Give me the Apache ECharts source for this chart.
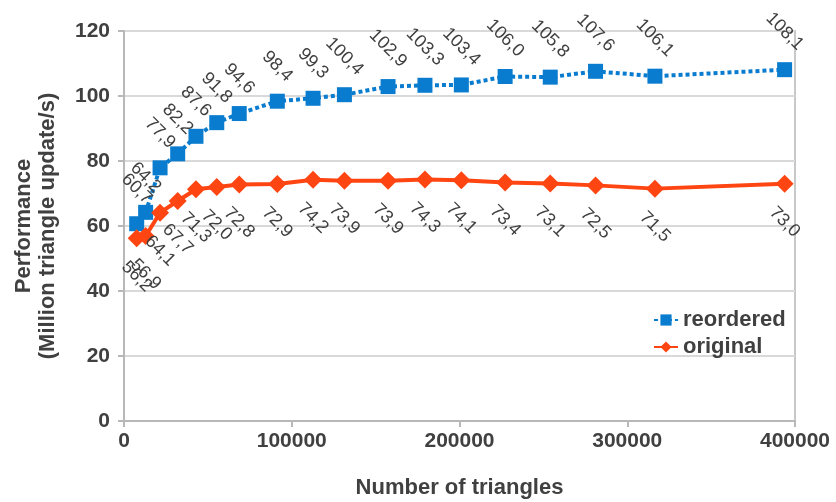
<!DOCTYPE html>
<html>
<head>
<meta charset="utf-8">
<script src="https://cdn.jsdelivr.net/npm/echarts@6/dist/echarts.min.js"></script>
<style>
  html, body { margin: 0; padding: 0; background: #ffffff; }
  #chart { width: 836px; height: 502px; }
</style>
</head>
<body>
<div id="chart"></div>
<script>
// Mesh sizes (number of triangles) for each measurement
const triangles = [7570, 12900, 21500, 32000, 42900, 55300, 68700, 91400, 112700, 131400,
                   157400, 179400, 201100, 227200, 254100, 281100, 316500, 393800];
// Throughput in million triangle updates per second
const reordered = [60.7, 64.2, 77.9, 82.2, 87.6, 91.8, 94.6, 98.4, 99.3, 100.4,
                   102.9, 103.3, 103.4, 106.0, 105.8, 107.6, 106.1, 108.1];
const original  = [56.2, 56.9, 64.1, 67.7, 71.3, 72.0, 72.8, 72.9, 74.2, 73.9,
                   73.9, 74.3, 74.1, 73.4, 73.1, 72.5, 71.5, 73.0];
const seriesNames = ['reordered', 'original'];

const TEXT = '#404040';
const LABEL_FONT = 18;
const fmt = v => v.toFixed(1).replace('.', ',');

// Labels are rotated 45° clockwise; the offset lives in the rotated frame,
// so a vertical shift of d becomes (±d/√2, ±d/√2).
const measureCtx = document.createElement('canvas').getContext('2d');
measureCtx.font = LABEL_FONT + 'px "Liberation Sans"';
function labelOffset(v, above) {
  const w = measureCtx.measureText(fmt(v)).width;
  const d = (above ? 16 : 19.5) + (w + LABEL_FONT) * Math.SQRT1_2 / 2;
  const k = d * Math.SQRT1_2;
  return above ? [-k, -k] : [k, k];
}

function buildData(values, above) {
  return triangles.map((x, i) => ({
    value: [x, values[i]],
    label: { offset: labelOffset(values[i], above) }
  }));
}

const labelBase = {
  show: true,
  position: 'inside',
  rotate: -45,
  align: 'center',
  verticalAlign: 'middle',
  color: TEXT,
  fontFamily: 'Liberation Sans',
  fontSize: LABEL_FONT,
  formatter: p => fmt(p.value[1])
};

const chart = echarts.init(document.getElementById('chart'), null, { renderer: 'canvas' });
chart.setOption({
  animation: false,
  backgroundColor: '#ffffff',
  textStyle: { fontFamily: 'Liberation Sans' },
  grid: {
    left: 124, right: 41, top: 31, bottom: 81,
    outerBoundsMode: 'none',
    containLabel: false,
    show: true, borderColor: '#C8C8C8', borderWidth: 2
  },
  legend: {
    data: seriesNames,
    orient: 'vertical',
    left: 648, top: 304,
    itemWidth: 24, itemHeight: 14, itemGap: 5,
    textStyle: { color: TEXT, fontWeight: 'bold', fontSize: 22, fontFamily: 'Liberation Sans' }
  },
  xAxis: {
    type: 'value',
    min: 0, max: 400000, interval: 100000,
    name: 'Number of triangles',
    nameLocation: 'middle',
    nameGap: 56,
    nameTextStyle: { color: TEXT, fontWeight: 'bold', fontSize: 22 },
    axisLine: { lineStyle: { color: '#B8B8B8', width: 2 } },
    axisTick: { show: true, length: 6, lineStyle: { color: '#B8B8B8', width: 2 } },
    axisLabel: { color: TEXT, fontWeight: 'bold', fontSize: 21, margin: 10,
                 formatter: v => String(v) },
    splitLine: { show: false }
  },
  yAxis: {
    type: 'value',
    min: 0, max: 120, interval: 20,
    name: 'Performance\n(Million triangle update/s)',
    nameLocation: 'middle',
    nameGap: 64,
    nameTextStyle: { color: TEXT, fontWeight: 'bold', fontSize: 22, lineHeight: 24 },
    axisLine: { show: true, lineStyle: { color: '#B8B8B8', width: 2 } },
    axisTick: { show: true, length: 6, lineStyle: { color: '#B8B8B8', width: 2 } },
    axisLabel: { color: TEXT, fontWeight: 'bold', fontSize: 21, margin: 14 },
    splitLine: { lineStyle: { color: '#D9D9D9', width: 2 } }
  },
  series: [
    {
      name: seriesNames[0],
      type: 'line',
      data: buildData(reordered, true),
      symbol: 'rect',
      symbolSize: 15,
      itemStyle: { color: '#0A7CCF' },
      lineStyle: { color: '#0A7CCF', width: 4, type: [4, 3] },
      label: labelBase,
      z: 2
    },
    {
      name: seriesNames[1],
      type: 'line',
      data: buildData(original, false),
      symbol: 'diamond',
      symbolSize: [18, 18],
      itemStyle: { color: '#FF4512' },
      lineStyle: { color: '#FF4512', width: 4 },
      label: labelBase,
      z: 3
    }
  ]
});
</script>
</body>
</html>
